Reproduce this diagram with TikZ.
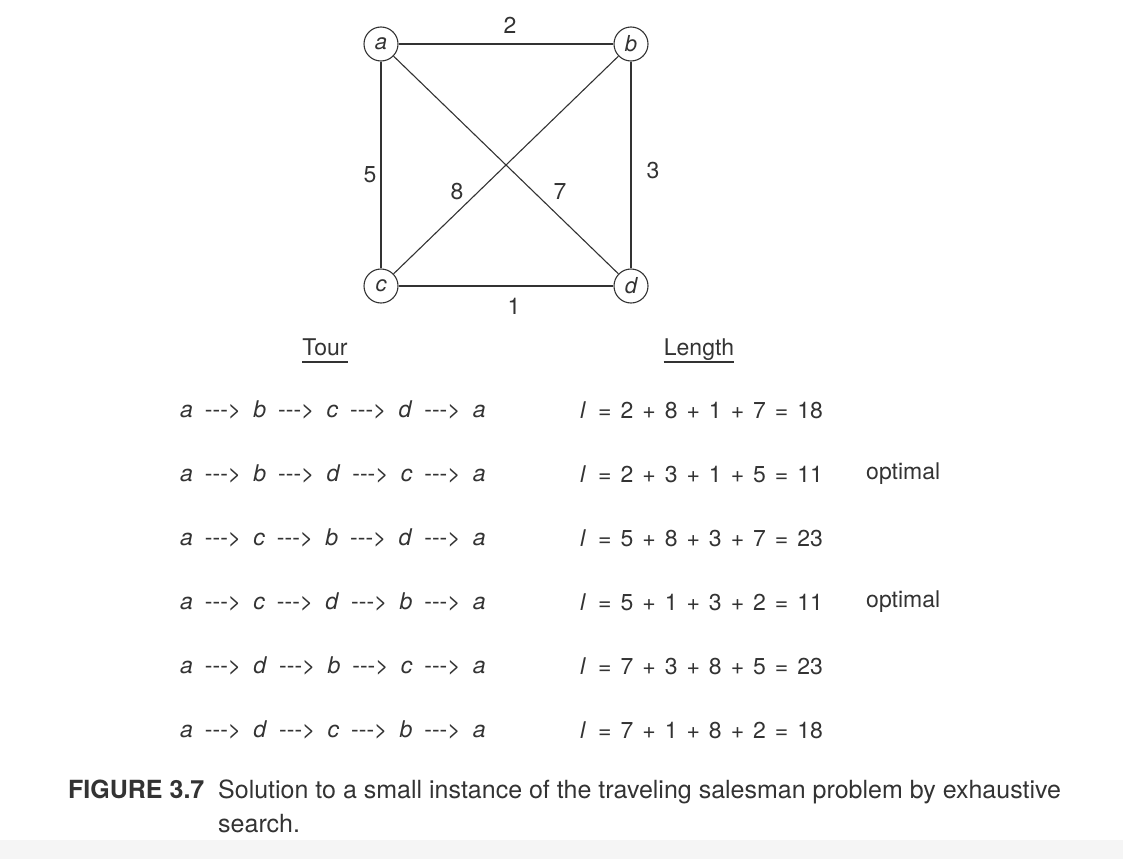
\documentclass[tikz,border=0pt]{standalone}
\usepackage{fontspec}
\setmainfont{TeX Gyre Heros}
\definecolor{ink}{HTML}{333333}
\begin{document}
\begin{tikzpicture}[x=1pt,y=-1pt,
  vtx/.style={circle,draw=ink,line width=1.1pt,minimum size=34pt,inner sep=0pt,font=\fontsize{22}{22}\selectfont\itshape,text=ink},
  edge/.style={draw=ink,line width=1.1pt},
  elab/.style={font=\fontsize{23}{23}\selectfont,text=ink},
  txt/.style={font=\fontsize{23}{23}\selectfont,text=ink,inner sep=0pt},
  captxt/.style={font=\fontsize{25}{25}\selectfont,text=ink,inner sep=0pt},
  hdr/.style={font=\fontsize{23}{23}\selectfont,text=ink,inner sep=0pt}]
\useasboundingbox (0,0) rectangle (1123,859);
\fill[white] (0,0) rectangle (1123,859);
\fill[black!4] (0,840) rectangle (1123,859);
% graph
\node[vtx] (a) at (381,44) {a};
\node[vtx] (b) at (631,44) {b};
\node[vtx] (c) at (381,286) {c};
\node[vtx] (d) at (631,286) {d};
\draw[edge] (a) -- (b);
\draw[edge] (a) -- (c);
\draw[edge] (a) -- (d);
\draw[edge] (b) -- (c);
\draw[edge] (b) -- (d);
\draw[edge] (c) -- (d);
\node[elab] (l2) at (510,25) {2};
\node[elab] (l5) at (370,175) {5};
\node[elab] (l8) at (457,192) {8};
\node[elab] (l7) at (560,192) {7};
\node[elab] (l3) at (653,171) {3};
\node[elab] (l1) at (514,306) {1};
% headers
\node[hdr,anchor=base] (tour) at (325,355) {Tour};
\node[hdr,anchor=base] (len) at (699,355) {Length};
\coordinate (tu1) at (tour.west |- 0,362);
\coordinate (tu2) at (tour.east |- 0,362);
\coordinate (lu1) at (len.west |- 0,362);
\coordinate (lu2) at (len.east |- 0,362);
\draw[ink,line width=1.2pt] (tu1) -- (tu2);
\draw[ink,line width=1.2pt] (lu1) -- (lu2);
% rows
\newcommand{\ar}{\hspace{12pt}-{}-{}->\hspace{12pt}}
\newcommand{\sq}{\hspace{9pt}}
\node[txt,anchor=west] (r1) at (180,410) {\textit{a}\ar\textit{b}\ar\textit{c}\ar\textit{d}\ar\textit{a}};
\node[txt,anchor=west] (r2) at (180,474) {\textit{a}\ar\textit{b}\ar\textit{d}\ar\textit{c}\ar\textit{a}};
\node[txt,anchor=west] (r3) at (180,538) {\textit{a}\ar\textit{c}\ar\textit{b}\ar\textit{d}\ar\textit{a}};
\node[txt,anchor=west] (r4) at (180,602) {\textit{a}\ar\textit{c}\ar\textit{d}\ar\textit{b}\ar\textit{a}};
\node[txt,anchor=west] (r5) at (180,666) {\textit{a}\ar\textit{d}\ar\textit{b}\ar\textit{c}\ar\textit{a}};
\node[txt,anchor=west] (r6) at (180,730) {\textit{a}\ar\textit{d}\ar\textit{c}\ar\textit{b}\ar\textit{a}};
\node[txt,anchor=west] (s1) at (580,410) {\textit{l}\hspace{12pt}=\sq2\sq+\sq8\sq+\sq1\sq+\sq7\sq=\sq18};
\node[txt,anchor=west] (s2) at (580,474) {\textit{l}\hspace{12pt}=\sq2\sq+\sq3\sq+\sq1\sq+\sq5\sq=\sq11};
\node[txt,anchor=west] (s3) at (580,538) {\textit{l}\hspace{12pt}=\sq5\sq+\sq8\sq+\sq3\sq+\sq7\sq=\sq23};
\node[txt,anchor=west] (s4) at (580,602) {\textit{l}\hspace{12pt}=\sq5\sq+\sq1\sq+\sq3\sq+\sq2\sq=\sq11};
\node[txt,anchor=west] (s5) at (580,666) {\textit{l}\hspace{12pt}=\sq7\sq+\sq3\sq+\sq8\sq+\sq5\sq=\sq23};
\node[txt,anchor=west] (s6) at (580,730) {\textit{l}\hspace{12pt}=\sq7\sq+\sq1\sq+\sq8\sq+\sq2\sq=\sq18};
\node[txt,anchor=west] (o2) at (866,474) {optimal};
\node[txt,anchor=west] (o4) at (866,602) {optimal};
% caption
\node[captxt,anchor=base west] (fig) at (68,798) {\bfseries FIGURE 3.7};
\node[captxt,anchor=base west] (cap1) at (218,798) {Solution to a small instance of the traveling salesman problem by exhaustive};
\node[captxt,anchor=base west] (cap2) at (218,832) {search.};
\end{tikzpicture}
\end{document}
